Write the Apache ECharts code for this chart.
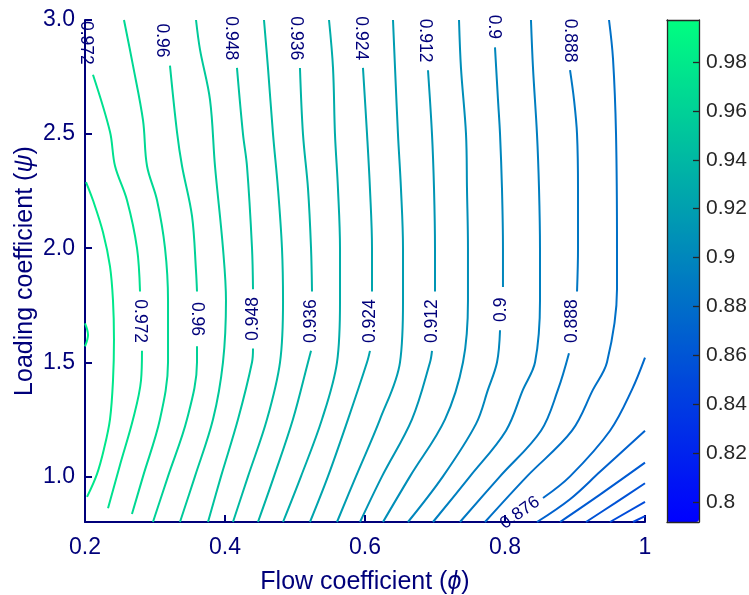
<!DOCTYPE html>
<html><head><meta charset="utf-8">
<script src="https://cdn.jsdelivr.net/npm/echarts@6/dist/echarts.min.js"></script>
<style>html,body{margin:0;padding:0;background:#fff}#c{width:749px;height:595px}</style>
</head><body><div id="c"></div>
<script>
// Axis ticks
const xTicks = [0.2, 0.4, 0.6, 0.8, 1.0];
const yTicks = [1.0, 1.5, 2.0, 2.5, 3.0];
const cbTicks = [0.8, 0.82, 0.84, 0.86, 0.88, 0.9, 0.92, 0.94, 0.96, 0.98];
const cbRange = [0.7918, 0.9972];

// Contour lines (phi, psi), each level as list of segments (gaps where labels sit)
const c0984 = [[[0.2,1.67],[0.2043,1.62],[0.2,1.57]]];
const c0978 = [[[0.2014,2.29],[0.2114,2.21],[0.2257,2.07],[0.2357,1.92],[0.24,1.77],[0.2414,1.6],[0.24,1.42],[0.2357,1.25],[0.2271,1.12],[0.2171,1.01],[0.2029,0.91]]];
const c0972 = [[[0.2114,2.76],[0.2357,2.51],[0.2429,2.36],[0.26,2.21],[0.2743,2.0],[0.2786,1.81]],
               [[0.2814,1.55],[0.28,1.42],[0.2686,1.25],[0.25,1.05],[0.2329,0.86]]];
const c0966 = [[[0.2557,3.0],[0.2686,2.8],[0.2829,2.56],[0.2886,2.36],[0.3029,2.21],[0.3143,2.0],[0.3186,1.77],[0.3186,1.5],[0.3071,1.25],[0.2829,1.0],[0.2671,0.835]]];
const c0960 = [[[0.3214,2.8],[0.3314,2.51],[0.3386,2.36],[0.3529,2.14],[0.3586,1.9],[0.36,1.81]],
               [[0.36,1.57],[0.36,1.5],[0.3457,1.25],[0.3186,1.0],[0.2971,0.8]]];
const c0954 = [[[0.3586,3.0],[0.3643,2.87],[0.3786,2.65],[0.3857,2.36],[0.3971,2.0],[0.4014,1.77],[0.3971,1.5],[0.3829,1.25],[0.3571,1.0],[0.3357,0.8]]];
const c0948 = [[[0.4171,2.79],[0.4257,2.5],[0.4314,2.36],[0.4386,2.0],[0.44,1.82]],
               [[0.44,1.56],[0.4386,1.5],[0.4186,1.25],[0.3943,1.0],[0.3757,0.8]]];
const c0942 = [[[0.4557,3.0],[0.4614,2.79],[0.4686,2.5],[0.4757,2.26],[0.4814,2.0],[0.4829,1.77],[0.4786,1.5],[0.46,1.25],[0.4329,1.0],[0.4114,0.8]]];
const c0936 = [[[0.5071,2.79],[0.5114,2.5],[0.5186,2.26],[0.5229,2.0],[0.5243,1.81]],
               [[0.5229,1.55],[0.5186,1.5],[0.4971,1.25],[0.47,1.0],[0.4471,0.8]]];
const c0930 = [[[0.5486,3.0],[0.5543,2.79],[0.5571,2.5],[0.5614,2.26],[0.5643,2.0],[0.5643,1.77],[0.56,1.5],[0.5386,1.25],[0.5086,1.0],[0.4829,0.8]]];
const c0924 = [[[0.5971,2.79],[0.6029,2.5],[0.6071,2.26],[0.61,2.0],[0.61,1.81]],
               [[0.6071,1.55],[0.6029,1.5],[0.5757,1.25],[0.5471,1.0],[0.5214,0.8]]];
const c0918 = [[[0.64,3.0],[0.6429,2.79],[0.6471,2.5],[0.6514,2.26],[0.6543,2.0],[0.6543,1.77],[0.65,1.5],[0.6214,1.25],[0.5871,1.0],[0.56,0.8]]];
const c0912 = [[[0.69,2.78],[0.6957,2.5],[0.6986,2.26],[0.7,2.0],[0.7,1.81]],
               [[0.6957,1.55],[0.6929,1.5],[0.6671,1.25],[0.6243,1.0],[0.5929,0.8]]];
const c0906 = [[[0.7343,3.0],[0.7371,2.79],[0.7443,2.5],[0.7457,2.26],[0.7471,2.0],[0.7471,1.77],[0.74,1.5],[0.7143,1.25],[0.6643,1.0],[0.6257,0.8]]];
const c0900 = [[[0.7857,2.88],[0.79,2.65],[0.7929,2.5],[0.7957,2.26],[0.7971,2.0],[0.7971,1.83]],
               [[0.7929,1.64],[0.7886,1.5],[0.7757,1.38],[0.7586,1.23],[0.7114,1.0],[0.6614,0.8]]];
const c0894 = [[[0.8371,3.0],[0.84,2.79],[0.8457,2.5],[0.8486,2.26],[0.85,2.0],[0.85,1.77],[0.8429,1.5],[0.8257,1.38],[0.8014,1.2],[0.75,1.0],[0.6971,0.8]]];
const c0888 = [[[0.8929,2.78],[0.8986,2.65],[0.9029,2.5],[0.9043,2.26],[0.9043,2.0],[0.9029,1.81]],
               [[0.8914,1.54],[0.8757,1.38],[0.8514,1.2],[0.7929,1.0],[0.7357,0.8]]];
const c0882 = [[[0.9486,3.0],[0.9543,2.83],[0.9586,2.5],[0.96,2.0],[0.96,1.82],[0.9457,1.5],[0.9257,1.38],[0.8957,1.2],[0.8314,1.0],[0.7714,0.8]]];
const c0876 = [[[1.0,1.52],[0.9814,1.38],[0.95,1.2],[0.8929,1.0],[0.8543,0.905]]];
const c0870 = [[[1.0,1.2],[0.9357,1.02],[0.8929,0.9],[0.8457,0.8]]];
const c0864 = [[[1.0,1.06],[0.9357,0.92],[0.8786,0.8]]];
const c0858 = [[[1.0,0.97],[0.9571,0.883],[0.9157,0.8]]];
const c0852 = [[[1.0,0.888],[0.95,0.8]]];
const c0846 = [[[1.0,0.826],[0.9829,0.8]]];

const levels = [0.984,0.978,0.972,0.966,0.960,0.954,0.948,0.942,0.936,0.930,0.924,0.918,0.912,0.906,0.900,0.894,0.888,0.882,0.876,0.870,0.864,0.858,0.852,0.846];
const contours = [c0984,c0978,c0972,c0966,c0960,c0954,c0948,c0942,c0936,c0930,c0924,c0918,c0912,c0906,c0900,c0894,c0888,c0882,c0876,c0870,c0864,c0858,c0852,c0846];

// Contour labels
const labelText = ['0.972','0.96','0.948','0.936','0.924','0.912','0.9','0.888',
                   '0.972','0.96','0.948','0.936','0.924','0.912','0.9','0.888','0.876'];
const labelX = [0.2014,0.31,0.4086,0.5014,0.5943,0.6857,0.7843,0.8929,
                0.2786,0.36,0.44,0.5229,0.6071,0.6957,0.7943,0.8957,0.8214];
const labelY = [2.90,2.91,2.92,2.92,2.92,2.91,2.97,2.91,
                1.68,1.69,1.69,1.68,1.68,1.68,1.73,1.68,0.84];
const labelRot = [-90,-90,-90,-90,-90,-90,-90,-90,
                  -90,-90,90,90,90,90,90,90,35];

const NAVY = '#00007a';
const FONT = '"Liberation Sans", Arial, Helvetica, sans-serif';

function winter(v) {
  const t = Math.max(0, Math.min(1, (v - cbRange[0]) / (cbRange[1] - cbRange[0])));
  return 'rgb(0,' + Math.round(255 * t) + ',' + Math.round(255 * (1 - 0.5 * t)) + ')';
}

const series = [];
contours.forEach((segs, i) => {
  segs.forEach(seg => {
    series.push({
      type: 'line', xAxisIndex: 0, yAxisIndex: 0,
      data: seg, showSymbol: false, symbol: 'none', smooth: 0.35, clip: true,
      silent: true, animation: false,
      lineStyle: { color: winter(levels[i]), width: 2 }
    });
  });
});
series.push({
  type: 'scatter', xAxisIndex: 0, yAxisIndex: 0, symbolSize: 1, silent: true, animation: false,
  itemStyle: { color: 'rgba(0,0,0,0)' }, z: 5,
  data: labelX.map((x, i) => ({ value: [x, labelY[i]], name: labelText[i], label: { rotate: labelRot[i] } })),
  label: { show: true, position: 'inside', formatter: '{b}', color: NAVY, fontSize: 17.5, fontFamily: FONT,
    textBorderWidth: 0, opacity: 1 }
});

const chart = echarts.init(document.getElementById('c'), null, { renderer: 'canvas' });
chart.setOption({
  animation: false,
  backgroundColor: '#fff',
  textStyle: { fontFamily: FONT },
  grid: [
    { left: 85, top: 20, width: 560, height: 502, outerBoundsMode: 'none', containLabel: false },
    { left: 667, top: 20, width: 32, height: 502, outerBoundsMode: 'none', containLabel: false }
  ],
  xAxis: [
    {
      type: 'value', gridIndex: 0, min: 0.2, max: 1.0, interval: 0.2,
      name: 'Flow coefficient ({i|ϕ})', nameLocation: 'middle', nameGap: 48, nameMoveOverlap: false,
      nameTextStyle: { fontSize: 25, color: NAVY, fontFamily: FONT,
        rich: { i: { fontSize: 25, color: NAVY, fontStyle: 'italic', fontFamily: FONT } } },
      axisLine: { show: true, onZero: false, lineStyle: { color: NAVY, width: 2 } },
      axisTick: { show: true, inside: true, length: 7, lineStyle: { color: NAVY, width: 2 } },
      axisLabel: { fontSize: 23, color: NAVY, margin: 14, fontFamily: FONT,
        formatter: v => String(parseFloat(v.toFixed(1))) },
      splitLine: { show: false }
    },
    { type: 'value', gridIndex: 1, min: 0, max: 1, position: 'bottom', z: 10,
      axisLine: { show: true, onZero: false, lineStyle: { color: '#262626', width: 1.3 } },
      axisTick: { show: false }, axisLabel: { show: false }, splitLine: { show: false } },
    { type: 'value', gridIndex: 1, min: 0, max: 1, position: 'top', z: 10,
      axisLine: { show: true, onZero: false, lineStyle: { color: '#262626', width: 1.3 } },
      axisTick: { show: false }, axisLabel: { show: false }, splitLine: { show: false } }
  ],
  yAxis: [
    {
      type: 'value', gridIndex: 0, min: 0.8, max: 3.0,
      name: 'Loading coefficient ({i|ψ})', nameLocation: 'middle', nameGap: 47, nameMoveOverlap: false,
      nameTextStyle: { fontSize: 25, color: NAVY, fontFamily: FONT,
        rich: { i: { fontSize: 25, color: NAVY, fontStyle: 'italic', fontFamily: FONT } } },
      axisLine: { show: true, onZero: false, lineStyle: { color: NAVY, width: 2 } },
      axisTick: { show: true, inside: true, length: 7, customValues: yTicks, lineStyle: { color: NAVY, width: 2 } },
      axisLabel: { fontSize: 23, color: NAVY, margin: 10, fontFamily: FONT, customValues: yTicks,
        formatter: v => v.toFixed(1) },
      splitLine: { show: false }
    },
    {
      type: 'value', gridIndex: 1, min: cbRange[0], max: cbRange[1], position: 'right', z: 10,
      axisLine: { show: true, onZero: false, lineStyle: { color: '#262626', width: 1.3 } },
      axisTick: { show: true, inside: true, length: 6, customValues: cbTicks, lineStyle: { color: '#262626', width: 1.3 } },
      axisLabel: { fontSize: 21, color: '#262626', margin: 7, fontFamily: FONT, customValues: cbTicks,
        formatter: v => String(parseFloat(v.toFixed(2))) },
      splitLine: { show: false }
    },
    { type: 'value', gridIndex: 1, min: cbRange[0], max: cbRange[1], position: 'left', z: 10,
      axisLine: { show: true, onZero: false, lineStyle: { color: '#262626', width: 1.3 } },
      axisTick: { show: false }, axisLabel: { show: false }, splitLine: { show: false } }
  ],
  visualMap: {
    type: 'continuous', min: cbRange[0], max: cbRange[1], seriesIndex: [],
    orient: 'vertical', left: 667, top: 20, itemWidth: 32, itemHeight: 502, padding: 0,
    calculable: false, hoverLink: false, text: null,
    inRange: { color: ['#0000ff', '#00ff80'] }
  },
  series: series
});
</script>
</body></html>
